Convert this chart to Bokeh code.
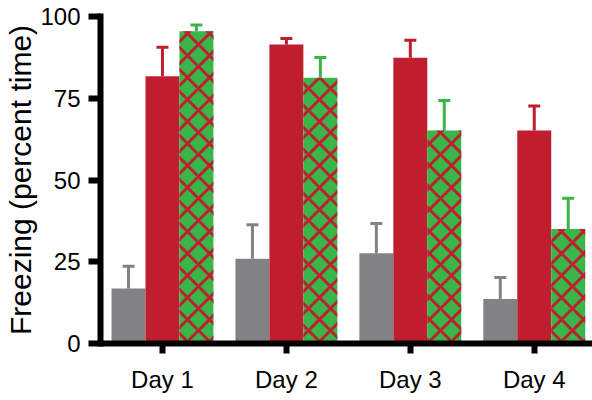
import numpy as np
from bokeh.plotting import figure
from bokeh.models import ColumnDataSource, Whisker, TeeHead, FixedTicker
from bokeh.embed import file_html
from bokeh.resources import INLINE

days = ["Day 1", "Day 2", "Day 3", "Day 4"]
gray_vals = [16.8, 25.9, 27.6, 13.6]
gray_err = [6.8, 10.4, 9.1, 6.6]
red_vals = [81.7, 91.4, 87.4, 65.1]
red_err = [8.9, 1.9, 5.3, 7.5]
green_vals = [95.5, 81.3, 65.1, 35.0]
green_err = [1.9, 6.2, 9.2, 9.4]
y_ticks = [0, 25, 50, 75, 100]

GRAY = "#808285"
RED = "#BE1E2D"
GREEN = "#39B54A"
FONT = "Liberation Sans"

p = figure(width=592, height=400, x_range=(-0.5, 3.47), y_range=(0, 100),
           output_backend="svg", toolbar_location=None,
           min_border_left=100, min_border_right=0, min_border_top=16, min_border_bottom=57)
p.outline_line_color = None
p.xgrid.visible = False
p.ygrid.visible = False
p.background_fill_color = "white"
p.border_fill_color = "white"

idx = np.arange(len(days), dtype=float)
w = 0.274

series = [
    (gray_vals, gray_err, GRAY, -w, False),
    (red_vals, red_err, RED, 0.0, False),
    (green_vals, green_err, GREEN, w, True),
]
for vals, errs, col, off, hatch in series:
    v = np.array(vals)
    e = np.array(errs)
    src = ColumnDataSource(dict(x=idx + off, top=v, hi=v + e))
    kw = {}
    if hatch:
        kw = dict(hatch_pattern="diagonal_cross", hatch_color=RED, hatch_weight=3, hatch_scale=22)
    p.vbar(x="x", top="top", bottom=0, width=w, source=src, fill_color=col, line_color=None, **kw)
    wh = Whisker(base="x", lower="top", upper="hi", source=src, line_color=col, line_width=3,
                 lower_head=None,
                 upper_head=TeeHead(size=12, line_color=col, line_width=3))
    p.add_layout(wh)

# y axis
ya = p.yaxis[0]
ya.ticker = FixedTicker(ticks=y_ticks)
ya.axis_label = "Freezing (percent time)"
ya.axis_label_text_font = FONT
ya.axis_label_text_font_size = "30px"
ya.axis_label_text_font_style = "normal"
ya.axis_label_text_color = "black"
ya.axis_label_standoff = 0
ya.major_label_text_font = FONT
ya.major_label_text_font_size = "24px"
ya.major_label_standoff = 8
ya.axis_line_width = 6
ya.axis_line_cap = "square"
ya.major_tick_line_width = 6
ya.major_tick_out = 12
ya.major_tick_in = 0
ya.minor_tick_line_color = None
ya.major_label_text_color = "black"

# x axis
xa = p.xaxis[0]
xa.ticker = FixedTicker(ticks=list(range(len(days))))
xa.major_label_overrides = {i: d for i, d in enumerate(days)}
xa.major_label_text_font = FONT
xa.major_label_text_font_size = "24px"
xa.major_label_standoff = 12
xa.axis_line_width = 6
xa.major_tick_line_width = 6
xa.major_tick_out = 10
xa.major_tick_in = 0
xa.minor_tick_line_color = None
xa.major_label_text_color = "black"

open("out.html", "w").write(file_html(p, INLINE))
